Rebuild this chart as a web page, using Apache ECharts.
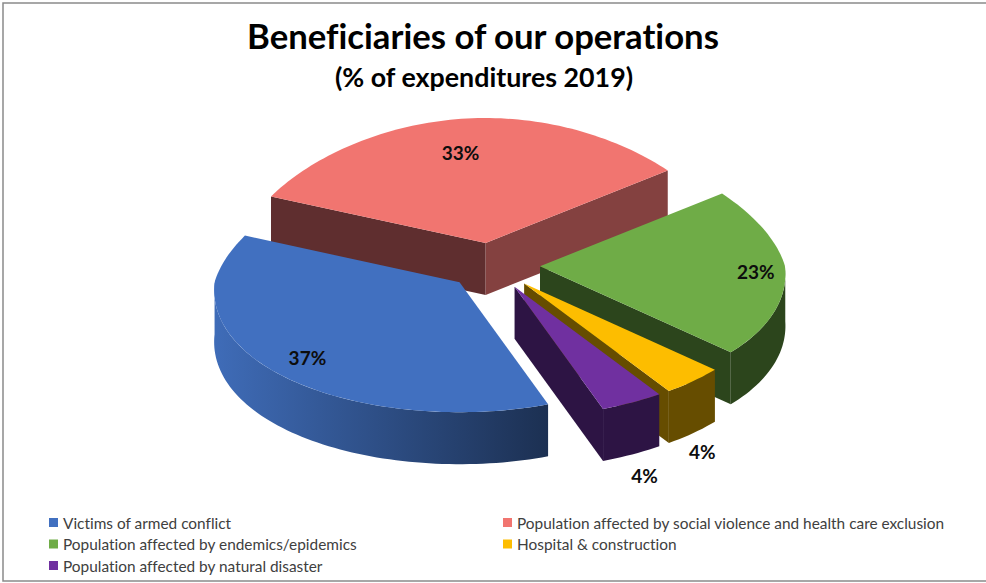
<!DOCTYPE html>
<html>
<head>
<meta charset="utf-8">
<style>
html,body{margin:0;padding:0;background:#fff}
#chart{width:986px;height:583px}
#chart text{font-variant-ligatures:none}
</style>
<script src="https://cdn.jsdelivr.net/npm/echarts@6/dist/echarts.min.js"></script>
</head>
<body>
<div id="chart"></div>
<script>
// Expenditure shares, in percent as published
const categories = [
  'Victims of armed conflict',
  'Population affected by social violence and health care exclusion',
  'Population affected by endemics/epidemics',
  'Hospital & construction',
  'Population affected by natural disaster'
];
const shares = [37, 33, 23, 4, 4];
const titleText = 'Beneficiaries of our operations';
const subtitleText = '(% of expenditures 2019)';

// Slice colours: top face, start wall, end wall, rim gradient (left, right)
const topColors  = ['#4170c0', '#f17570', '#6fac47', '#fdbd00', '#7030a0'];
const startWalls = ['#223a63', '#5f2e2f', '#2c451c', '#664d00', '#2d1444'];
const endWalls   = ['#223a63', '#844140', '#2c451c', '#664d00', '#2d1444'];
const rimLeft    = ['#3f6cb8', '#844140', '#2c451c', '#664d00', '#2d1444'];
const rimRight   = ['#1c3052', '#844140', '#2c451c', '#664d00', '#2d1444'];

// Label placement: radial reach on the ellipse, plus a drop in pixels below that point
const labelReach = [0.835, 0.735, 0.88, 1.05, 1.1];
const labelDrop  = [0, 0, 2, 66, 61];

// Paint order, back to front
const paintOrder = [1, 2, 3, 4, 0];

// Tilted-pie projection; the far half of the disc is foreshortened more than the near half
const pie = {
  cx: 493.2, cy: 266, rx: 245,
  ryBack: 125, ryFront: 130,
  narrowBack: 0.15, widenFront: 0.06,
  pullX: 46.8, pullY: 23.3, depth: 52, firstAngle: 160,
  skewAngle: 50, skewWidth: 35, skewAmount: 5
};
const total = shares.reduce((s, v) => s + v, 0);
const rad = d => d * Math.PI / 180;

function sliceAngles(index) {
  let start = pie.firstAngle;
  for (let i = 0; i < index; i++) start += shares[i] / total * 360;
  if (start >= 360) start -= 360;
  return { start, end: start + shares[index] / total * 360 };
}

// Angular skew of the far right quadrant caused by the camera's position
function skewed(deg) {
  const d = ((deg - pie.skewAngle + 540) % 360) - 180;
  return deg + pie.skewAmount * Math.exp(-(d * d) / (pie.skewWidth * pie.skewWidth));
}

function sweep(from, to) {
  const list = [];
  const steps = Math.max(4, Math.ceil((to - from) / 1.5));
  for (let i = 0; i <= steps; i++) list.push(from + (to - from) * i / steps);
  return list;
}

function renderSlice(index) {
  return function (params, api) {
    const value = api.value(0);
    const { start, end } = sliceAngles(index);
    const mid = (start + end) / 2;
    const apex = [
      pie.cx + pie.pullX * Math.sin(rad(mid)),
      pie.cy - pie.pullY * Math.cos(rad(mid))
    ];
    const at = (deg, reach, drop) => {
      const t = rad(skewed(deg));
      const u = Math.sin(t) * reach;
      const v = -Math.cos(t) * reach;
      const widen = 1 + v * (v < 0 ? pie.narrowBack : pie.widenFront);
      return [
        apex[0] + pie.rx * u * widen,
        apex[1] + (v < 0 ? pie.ryBack : pie.ryFront) * v + drop
      ];
    };

    const topFace = [apex].concat(sweep(start, end).map(d => at(d, 1, 0)));
    const wall = deg => [apex, at(deg, 1, 0), at(deg, 1, pie.depth), [apex[0], apex[1] + pie.depth]];
    const labelAt = at(mid, labelReach[index], labelDrop[index]);

    const children = [];
    // The outer rim is only seen along the near half of the disc
    const rimFrom = Math.max(start, 90);
    const rimTo = Math.min(end, 270);
    if (rimFrom < rimTo) {
      const rimArc = sweep(rimFrom, rimTo);
      const rim = rimArc.map(d => at(d, 1, 0)).concat(rimArc.slice().reverse().map(d => at(d, 1, pie.depth)));
      children.push({ type: 'polygon', shape: { points: rim }, style: {
        fill: new echarts.graphic.LinearGradient(0, 0, 1, 0, [
          { offset: 0, color: rimLeft[index] },
          { offset: 1, color: rimRight[index] }
        ]) } });
    }
    // A radial wall only shows when it hangs outside the top face
    if (Math.sin(rad(start)) < 0) {
      children.push({ type: 'polygon', shape: { points: wall(start) }, style: { fill: startWalls[index] } });
    }
    if (Math.sin(rad(end)) > 0) {
      children.push({ type: 'polygon', shape: { points: wall(end) }, style: { fill: endWalls[index] } });
    }
    children.push(
      { type: 'polygon', shape: { points: topFace }, style: { fill: topColors[index] } },
      { type: 'text', z2: 100, style: {
          x: labelAt[0], y: labelAt[1], text: value + '%',
          align: 'center', verticalAlign: 'middle',
          font: 'bold 19px Lato, sans-serif', fill: '#0d0d0d' } }
    );
    return { type: 'group', children };
  };
}

const chart = echarts.init(document.getElementById('chart'), null, { renderer: 'svg' });

const legendText = { fontFamily: 'Lato, sans-serif', fontSize: 15.4, color: '#404040' };

chart.setOption({
  animation: false,
  backgroundColor: '#fff',
  title: [
    { text: titleText, left: 478, top: 13, textAlign: 'center',
      textStyle: { fontFamily: 'Lato, sans-serif', fontWeight: 'bold', fontSize: 34.7, color: '#000' } },
    { text: subtitleText, left: 479, top: 58, textAlign: 'center',
      textStyle: { fontFamily: 'Lato, sans-serif', fontWeight: 'bold', fontSize: 26.8, color: '#000' } }
  ],
  legend: [
    { left: 49, top: 515, padding: 0, orient: 'vertical', itemGap: 6.5, itemWidth: 9, itemHeight: 9, icon: 'rect',
      data: [categories[0], categories[2], categories[4]], textStyle: legendText, selectedMode: false },
    { left: 503, top: 515, padding: 0, orient: 'vertical', itemGap: 6.5, itemWidth: 9, itemHeight: 9, icon: 'rect',
      data: [categories[1], categories[3]], textStyle: legendText, selectedMode: false }
  ],
  graphic: [
    { type: 'rect', silent: true, shape: { x: 3, y: 3, width: 990, height: 578 },
      style: { fill: 'none', stroke: '#8a8a8a', lineWidth: 1.5 } }
  ],
  series: paintOrder.map((index, order) => ({
    type: 'custom',
    name: categories[index],
    coordinateSystem: 'none',
    z: 2 + order,
    itemStyle: { color: topColors[index] },
    data: [[shares[index]]],
    renderItem: renderSlice(index)
  }))
});
</script>
</body>
</html>
